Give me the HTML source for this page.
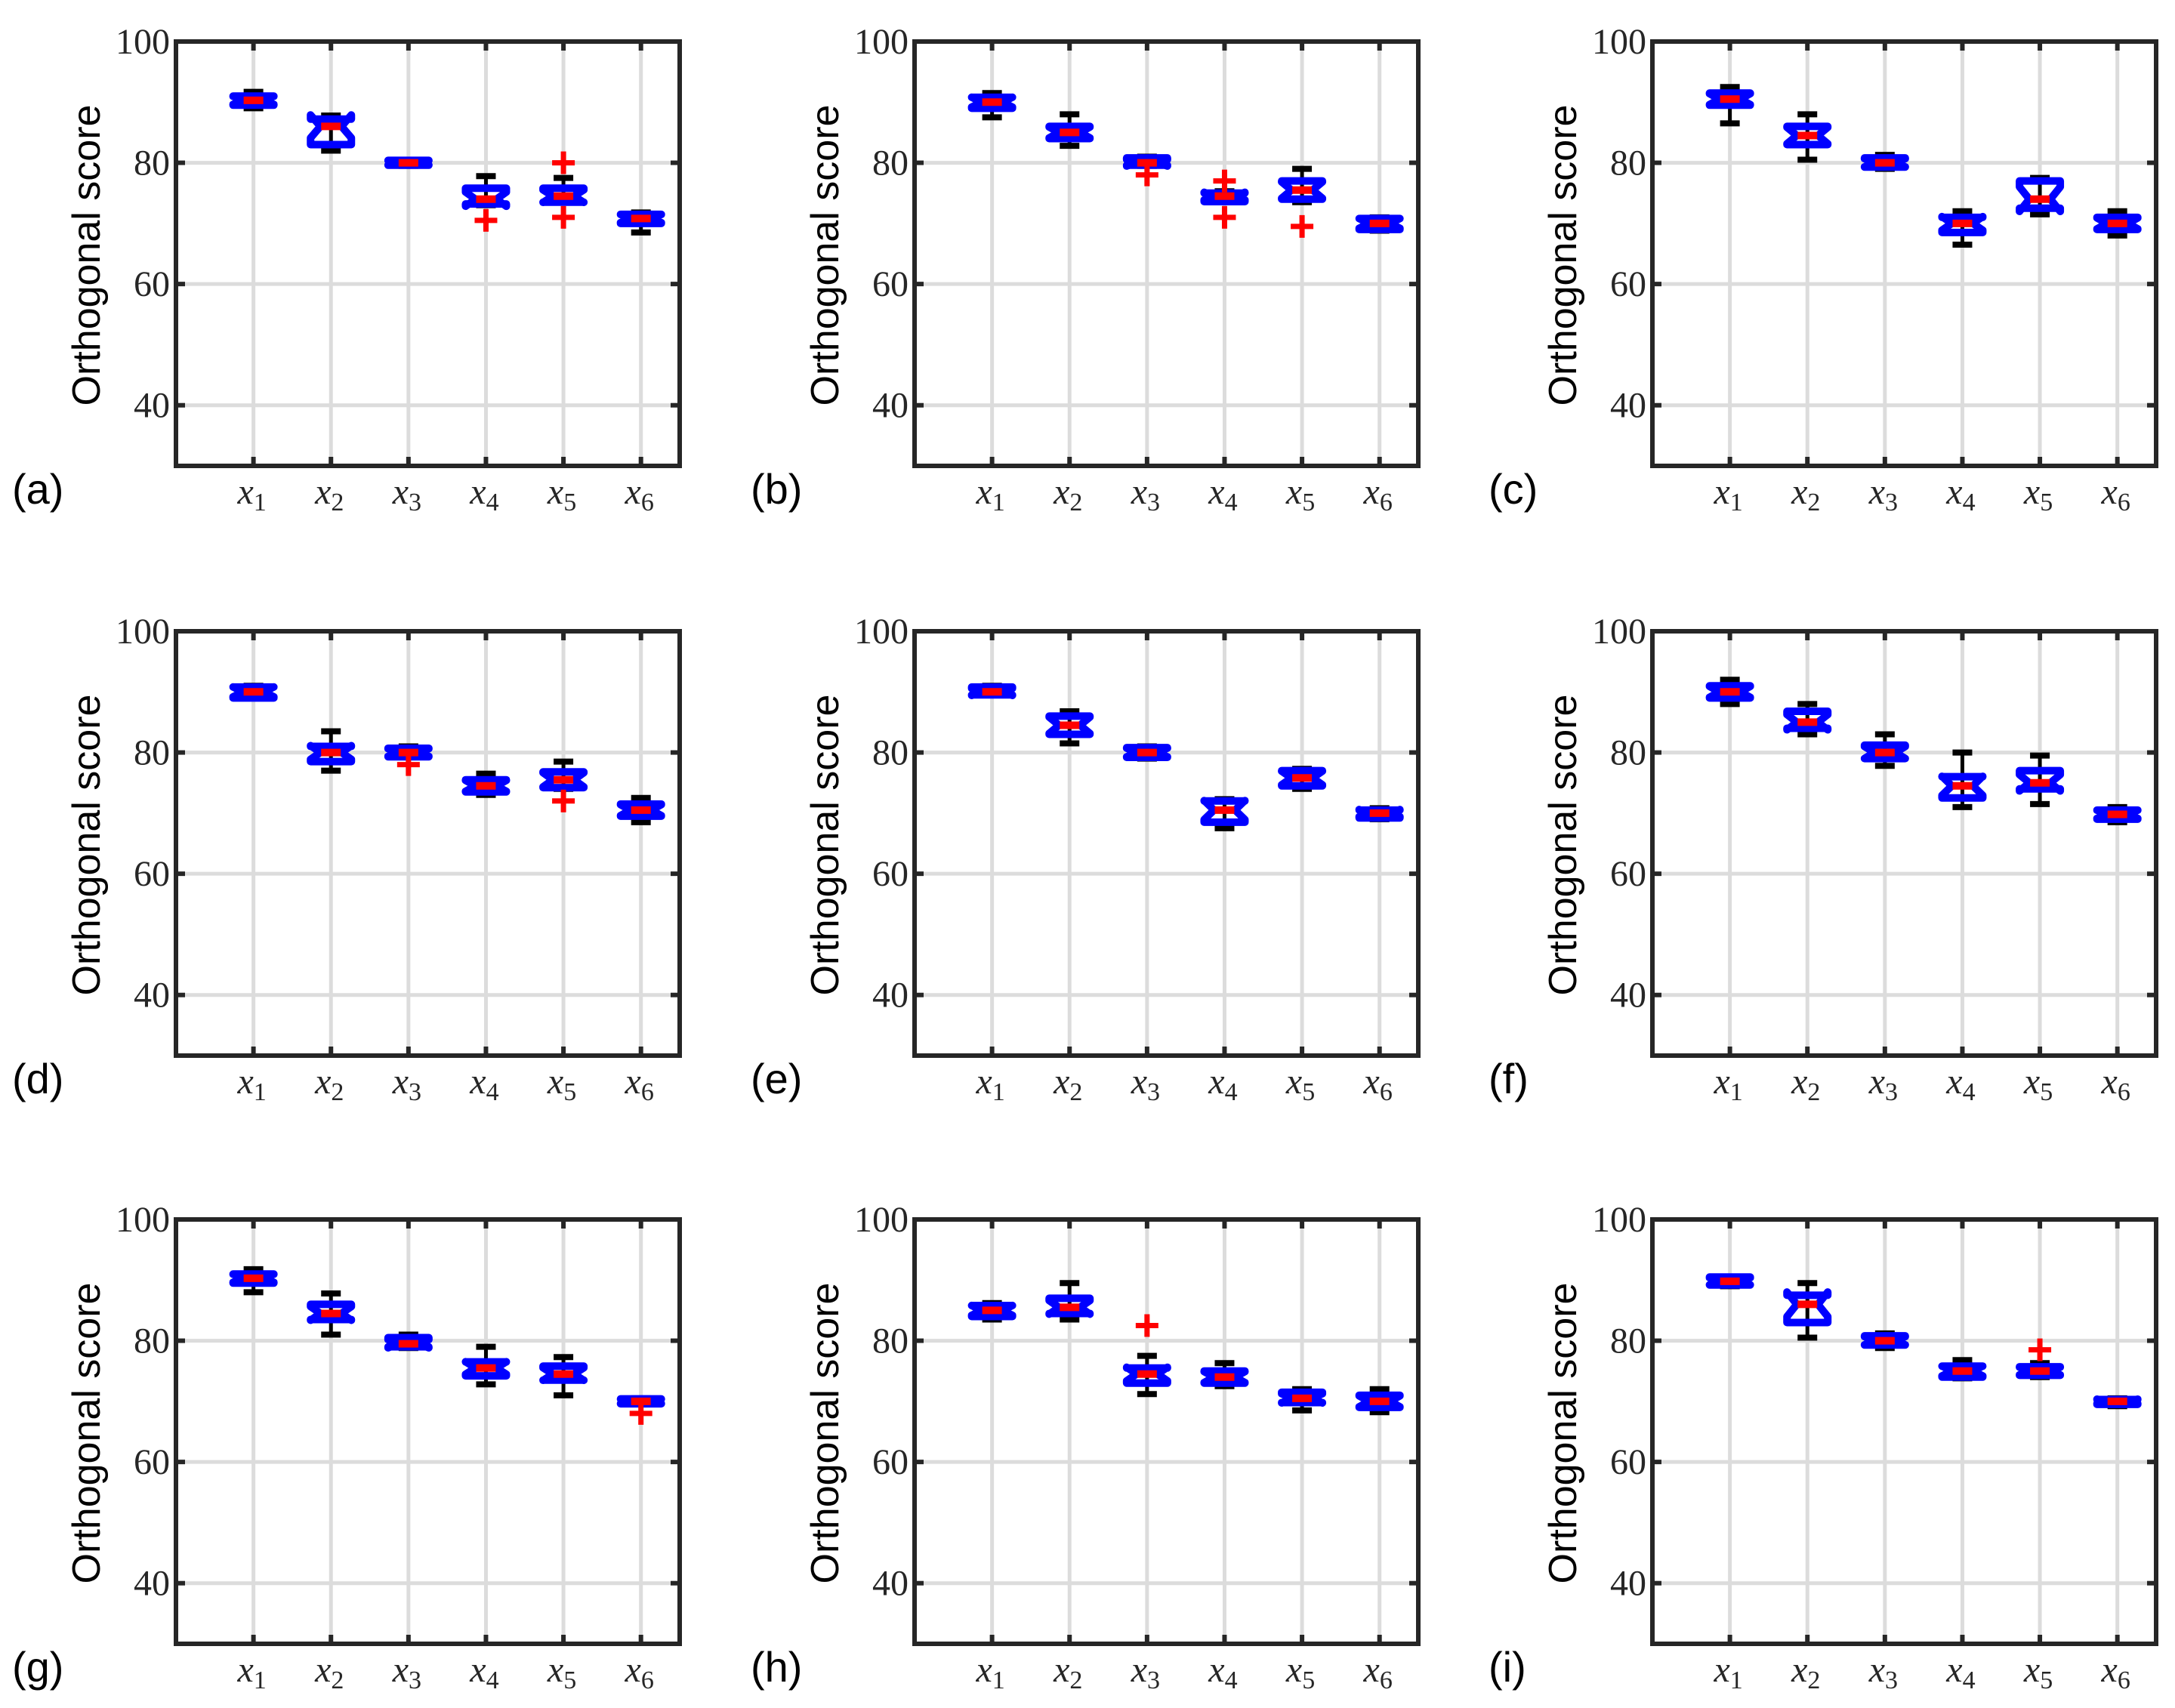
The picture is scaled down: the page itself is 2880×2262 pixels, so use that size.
<!DOCTYPE html>
<html><head><meta charset="utf-8"><style>
html,body{margin:0;padding:0;background:#fff;}
svg{display:block;}
</style></head><body>
<svg id="chart" width="2880" height="2262" viewBox="0 0 2880 2262" xmlns="http://www.w3.org/2000/svg"></svg>
<script>
const panelLabels = ['(a)','(b)','(c)','(d)','(e)','(f)','(g)','(h)','(i)'];
const categories = ['1','2','3','4','5','6'];
const yTicks = [40,60,80,100];
// each box: [whiskerLow, q1, median, q3, whiskerHigh]
const statsA = [[89,89.5,90.3,91,91.7],[82,83,86,87.2,87.8],[79.5,79.6,80,80.4,80.5],[73,73.2,74,75.8,77.8],[73.5,73.5,74.5,75.8,77.5],[68.5,70,70.8,71.5,71.8]];
const statsB = [[87.5,89,90,90.8,91.5],[82.8,84,85,86,88],[79.5,79.6,80,80.8,81],[73.5,73.6,74.5,75,75.3],[73.5,74,75.5,77,79],[68.8,69,70,70.8,71]];
const statsC = [[86.5,89.5,90.5,91.5,92.5],[80.5,83,84.5,86,88],[79,79.3,80,80.8,81.3],[66.5,68.5,70,71,72],[71.5,72.5,74,77,77.5],[68,69,70,71,72]];
const statsD = [[89,89,90,90.8,91],[77,78.5,80,81,83.5],[79.2,79.3,80,80.7,81],[73,73.5,74.5,75.5,76.5],[74,74.2,75.5,76.8,78.5],[68.5,69.5,70.5,71.5,72.5]];
const statsE = [[89.5,89.5,90,90.8,91],[81.5,83,84.5,86,86.8],[79,79.2,80,80.8,81],[67.5,68.5,70.5,72,72.3],[74,74.5,75.8,77,77.3],[69,69.2,70,70.5,70.8]];
const statsF = [[88,89,90,91,92],[83,84,85,86.8,88],[77.8,79,80,81.2,83],[71,72.5,74.5,76,80],[71.5,74,75,77,79.5],[68.5,69,69.8,70.5,71]];
const statsG = [[88,89.5,90.3,91,91.8],[81,83.5,84.5,86,87.8],[78.8,79,79.5,80.5,81],[72.8,74.2,75.5,76.5,79],[71,73.5,74.5,75.8,77.3],[69.5,69.6,70,70.4,70.5]];
const statsH = [[83.5,84,85,85.8,86.2],[83.5,84.5,85.5,87,89.5],[71.2,73,74.5,75.5,77.5],[72.5,73,74,75,76.3],[68.5,69.8,70.5,71.5,72],[68.2,69,70,71,72]];
const statsI = [[89,89.2,89.8,90.5,90.5],[80.5,83,86,87.5,89.5],[78.8,79.3,80,80.8,81.2],[73.8,74,75,75.8,76.8],[74,74.3,75,75.7,76.3],[69.2,69.5,70,70.3,70.5]];
// outliers per box
const outA = [[],[],[],[70.5],[80,71],[]];
const outB = [[],[],[78],[77,71],[69.5],[]];
const outC = [[],[],[],[],[],[]];
const outD = [[],[],[78],[],[72],[]];
const outE = [[],[],[],[],[],[]];
const outF = [[],[],[],[],[],[]];
const outG = [[],[],[],[],[],[68]];
const outH = [[],[],[82.5],[],[],[]];
const outI = [[],[],[],[],[78.5],[]];

const allStats=[statsA,statsB,statsC,statsD,statsE,statsF,statsG,statsH,statsI];
const allOut=[outA,outB,outC,outD,outE,outF,outG,outH,outI];

const NS='http://www.w3.org/2000/svg';
const svg=document.getElementById('chart');
function mk(tag,attrs,parent){const e=document.createElementNS(NS,tag);for(const k in attrs)e.setAttribute(k,attrs[k]);(parent||svg).appendChild(e);return e;}

const colLeft=[233,1211,2188], rowTop=[55,836,1615], PW=667, PH=562;
const Y0=30,Y1=100,X0=0,X1=6.5;

allStats.forEach((stats,p)=>{
  const L=colLeft[p%3], T=rowTop[Math.floor(p/3)];
  const g=mk('g',{});
  
  
  const xs=v=>L+(v-X0)/(X1-X0)*PW;
  const ys=v=>T+(Y1-v)/(Y1-Y0)*PH;
  yTicks.forEach(t=>{const l=mk('line',{x1:L,x2:L+PW,y1:ys(t),y2:ys(t),stroke:'#dcdcdc','stroke-width':5},g);
    });
  categories.forEach((c,i)=>{const l=mk('line',{x1:xs(i+1),x2:xs(i+1),y1:T,y2:T+PH,stroke:'#dcdcdc','stroke-width':5},g);
    });
  yTicks.forEach(t=>{
    mk('line',{x1:L,x2:L+12,y1:ys(t),y2:ys(t),stroke:'#262626','stroke-width':6},g);
    mk('line',{x1:L+PW-12,x2:L+PW,y1:ys(t),y2:ys(t),stroke:'#262626','stroke-width':6},g);
    const tx=mk('text',{x:L-8,y:ys(t)+16,'text-anchor':'end','font-family':'"Liberation Serif",serif','font-size':48,fill:'#262626'},g);
    tx.textContent=t;
  });
  categories.forEach((c,i)=>{
    mk('line',{x1:xs(i+1),x2:xs(i+1),y1:T+PH-12,y2:T+PH,stroke:'#262626','stroke-width':6},g);
    mk('line',{x1:xs(i+1),x2:xs(i+1),y1:T,y2:T+12,stroke:'#262626','stroke-width':6},g);
    const tx=mk('text',{x:xs(i+1)-2,y:T+PH+50,'text-anchor':'middle','font-family':'"Liberation Serif",serif','font-size':48,fill:'#262626'},g);
    tx.innerHTML='<tspan font-style="italic">x</tspan><tspan font-size="34" dy="9">'+c+'</tspan>';
    
  });
  stats.forEach((s,i)=>{
    const [lo,q1,md,q3,hi]=s; const cx=xs(i+1);
    const bg=mk('g',{},g);
    const cw=13;
    mk('line',{x1:cx,x2:cx,y1:ys(hi),y2:ys(lo),stroke:'#000','stroke-width':5},bg);
    mk('line',{x1:cx-cw,x2:cx+cw,y1:ys(hi),y2:ys(hi),stroke:'#000','stroke-width':8},bg);
    mk('line',{x1:cx-cw,x2:cx+cw,y1:ys(lo),y2:ys(lo),stroke:'#000','stroke-width':8},bg);
    const hw=27, nw=14, n=Math.max(0.45*(q3-q1),0.3);
    const pts=[[cx-hw,ys(q3)],[cx+hw,ys(q3)],[cx+hw,ys(md+n)],[cx+nw,ys(md)],[cx+hw,ys(md-n)],[cx+hw,ys(q1)],[cx-hw,ys(q1)],[cx-hw,ys(md-n)],[cx-nw,ys(md)],[cx-hw,ys(md+n)]];
    mk('polygon',{points:pts.map(p=>p.join(',')).join(' '),fill:'none',stroke:'#0000ff','stroke-width':10,'stroke-linejoin':'round'},bg);
    mk('line',{x1:cx-cw,x2:cx+cw,y1:ys(md),y2:ys(md),stroke:'#ff0000','stroke-width':10},bg);
    allOut[p][i].forEach(o=>{
      const og=mk('g',{},bg);
      mk('line',{x1:cx-15,x2:cx+15,y1:ys(o),y2:ys(o),stroke:'#ff0000','stroke-width':7},og);
      mk('line',{x1:cx,x2:cx,y1:ys(o)-15,y2:ys(o)+15,stroke:'#ff0000','stroke-width':7},og);
    });
  });
  const fr=mk('rect',{x:L,y:T,width:PW,height:PH,fill:'none',stroke:'#262626','stroke-width':6},g);
  
  const yl=mk('text',{x:0,y:0,transform:'translate('+(L-101)+','+(T+PH/2+2)+') rotate(-90)','text-anchor':'middle','font-family':'"Liberation Sans",sans-serif','font-size':52,fill:'#000'},g);
  yl.textContent='Orthogonal score';
  const pl=mk('text',{x:L-217,y:T+PH+50,'font-family':'"Liberation Sans",sans-serif','font-size':56,fill:'#000'},g);
  pl.textContent=panelLabels[p];
});
</script>
</body></html>
